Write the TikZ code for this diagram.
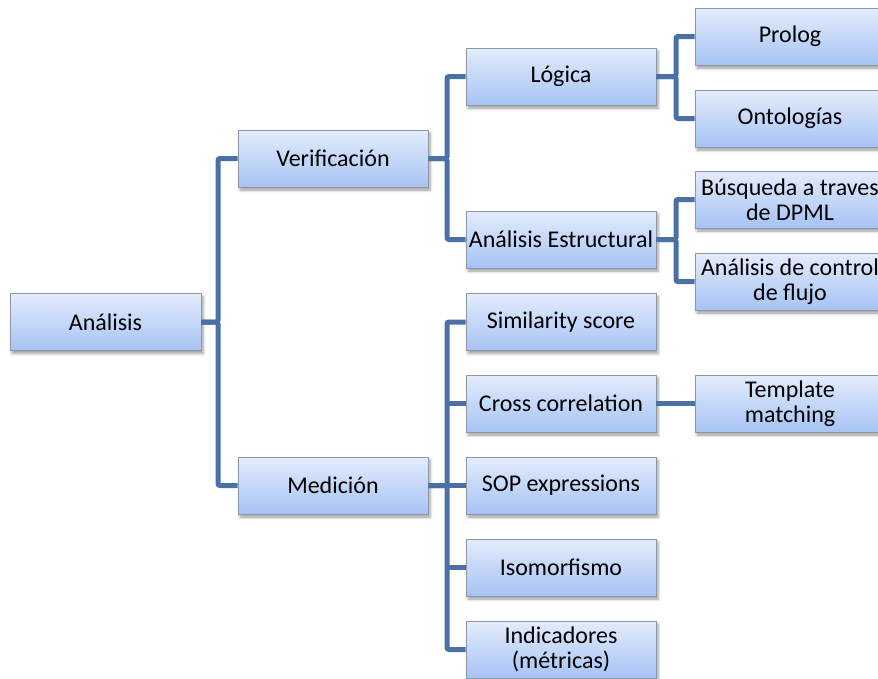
\documentclass[tikz,border=0pt]{standalone}
\usepackage{fontspec}
\setmainfont{Carlito}
\usetikzlibrary{shadows.blur}
\definecolor{boxline}{HTML}{8E97A4}
\definecolor{boxtop}{HTML}{E3ECFC}
\definecolor{boxbot}{HTML}{A6C3F4}
\definecolor{linkcol}{HTML}{4A70A6}
\begin{document}
\begin{tikzpicture}[x=1pt,y=-1pt,
  box/.style={draw=boxline, line width=0.9pt, top color=boxtop, bottom color=boxbot,
    minimum width=190pt, minimum height=57pt, inner sep=0pt, align=center,
    font=\fontsize{24}{25.5}\selectfont,
    blur shadow={shadow xshift=2pt, shadow yshift=-3pt, shadow blur radius=3pt, shadow opacity=40}},
  link/.style={draw=linkcol, line width=5pt, rounded corners=2pt}]
\useasboundingbox (0,0) rectangle (878,678);
\clip (0,0) rectangle (878,678);

% x positions of the vertical buses
\coordinate (busA) at (218,322);
\coordinate (busV) at (447,158);
\coordinate (busM) at (447,486);
\coordinate (busL) at (676,77);
\coordinate (busE) at (676,240);

% boxes
\node[box, minimum width=191pt] (ana) at (105.5,322) {Análisis};
\node[box] (ver) at (333,158.5) {Verificación};
\node[box] (med) at (333,485.5) {Medición};
\node[box] (log) at (561,76.5) {Lógica};
\node[box] (est) at (561,239.5) {Análisis Estructural};
\node[box] (sim) at (561,322) {Similarity score};
\node[box] (cro) at (561,403.5) {Cross correlation};
\node[box] (sop) at (561,485.5) {SOP expressions};
\node[box] (iso) at (561,567.5) {Isomorfismo};
\node[box] (ind) at (561,649.5) {Indicadores\\(métricas)};
\node[box] (pro) at (790,36.5) {Prolog};
\node[box] (ont) at (790,118.5) {Ontologías};
\node[box] (bus) at (790,199.5) {Búsqueda a traves\\de DPML};
\node[box] (ctl) at (790,281.5) {Análisis de control\\de flujo};
\node[box] (tem) at (790,403.5) {Template\\matching};

% tree links
\draw[link] (ana.east) -- (busA) |- (ver.west);
\draw[link] (ana.east) -- (busA) |- (med.west);
\draw[link] (ver.east) -| (busV |- log) -- (log.west);
\draw[link] (ver.east) -| (busV |- est) -- (est.west);
\draw[link] (med.east) -| (busM |- sim) -- (sim.west);
\draw[link] (med.east) -| (busM |- ind) -- (ind.west);
\draw[link] (busM |- cro) -- (cro.west);
\draw[link] (busM |- sop) -- (sop.west);
\draw[link] (busM |- iso) -- (iso.west);
\draw[link] (log.east) -| (busL |- pro) -- (pro.west);
\draw[link] (log.east) -| (busL |- ont) -- (ont.west);
\draw[link] (est.east) -| (busE |- bus) -- (bus.west);
\draw[link] (est.east) -| (busE |- ctl) -- (ctl.west);
\draw[link] (cro.east) -- (tem.west);
\end{tikzpicture}
\end{document}
